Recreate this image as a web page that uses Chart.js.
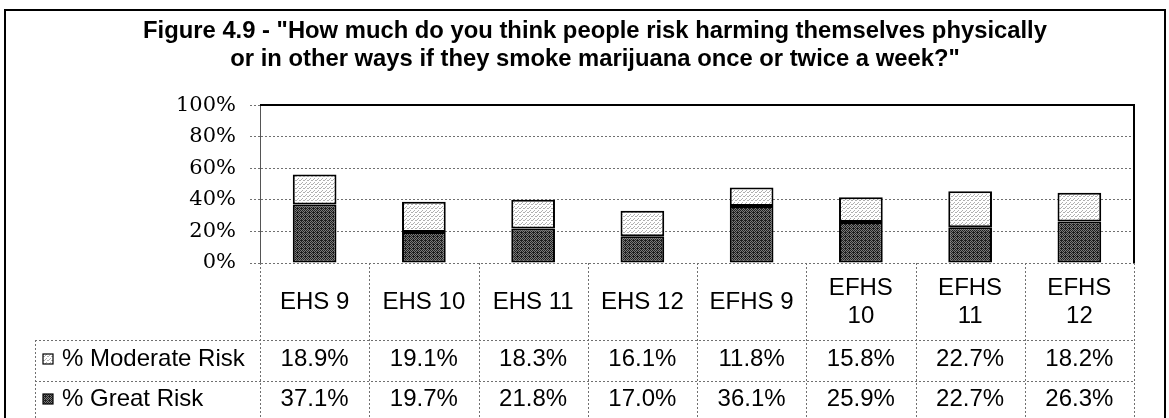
<!DOCTYPE html>
<html>
<head>
<meta charset="utf-8">
<script src="https://cdn.jsdelivr.net/npm/chart.js@4/dist/chart.umd.min.js"></script>
<style>
  html, body { margin: 0; padding: 0; background: #fff; }
  #wrap { width: 1169px; height: 418px; position: relative; }
</style>
</head>
<body>
<div id="wrap"><canvas id="c" width="1169" height="418"></canvas></div>
<script>
const titleLines = ['Figure 4.9 - "How much do you think people risk harming themselves physically',
                    'or in other ways if they smoke marijuana once or twice a week?"'];
const categories = ['EHS 9', 'EHS 10', 'EHS 11', 'EHS 12', 'EFHS 9', 'EFHS 10', 'EFHS 11', 'EFHS 12'];
const moderateRisk = [18.9, 19.1, 18.3, 16.1, 11.8, 15.8, 22.7, 18.2];
const greatRisk = [37.1, 19.7, 21.8, 17.0, 36.1, 25.9, 22.7, 26.3];
const seriesNames = ['% Moderate Risk', '% Great Risk'];
const yTicks = [0, 20, 40, 60, 80, 100];

function makePattern(base, dot, mask) {
  const c = document.createElement('canvas');
  c.width = 4; c.height = 4;
  const g = c.getContext('2d');
  g.fillStyle = base; g.fillRect(0, 0, 4, 4);
  g.fillStyle = dot;
  mask.forEach(([px, py]) => g.fillRect(px, py, 1, 1));
  return g.createPattern(c, 'repeat');
}
const ctx0 = document.getElementById('c').getContext('2d');
const greatFill = makePattern('#7a7a7a', '#1e1e1e', [[0,0],[2,0],[1,1],[3,1],[0,2],[2,2],[1,3],[3,3],[1,0]]);
const modFill = makePattern('#ffffff', '#b0b0b0', [[0,0],[2,2],[3,0],[1,3]]);

const fmt = v => v.toFixed(1) + '%';

const tablePlugin = {
  id: 'dataTable',
  afterDraw(chart) {
    const { ctx, chartArea: ca, scales: { x } } = chart;
    const colW = x.getPixelForValue(1) - x.getPixelForValue(0);
    const top = ca.bottom;
    const r1 = top + 77, r2 = top + 118, bot = 430;
    const legL = 35;
    ctx.save();
    ctx.strokeStyle = '#707070';
    ctx.lineWidth = 1;
    ctx.setLineDash([2, 2]);
    ctx.beginPath();
    for (let i = 0; i <= categories.length; i++) {
      const xb = Math.round(x.getPixelForValue(i) - colW / 2) + 0.5;
      ctx.moveTo(xb, top); ctx.lineTo(xb, bot);
    }
    ctx.moveTo(legL + 0.5, r1); ctx.lineTo(legL + 0.5, bot);
    ctx.moveTo(legL, r1 + 0.5); ctx.lineTo(ca.right, r1 + 0.5);
    ctx.moveTo(legL, r2 + 0.5); ctx.lineTo(ca.right, r2 + 0.5);
    ctx.stroke();
    ctx.setLineDash([]);

    ctx.strokeStyle = '#000';
    ctx.lineWidth = 2;
    ctx.beginPath();
    ctx.moveTo(ca.left, ca.top); ctx.lineTo(ca.right, ca.top); ctx.lineTo(ca.right, ca.bottom);
    ctx.stroke();

    ctx.fillStyle = '#000';
    ctx.font = '24px "Liberation Sans", Arial, sans-serif';
    ctx.textAlign = 'center';
    ctx.textBaseline = 'middle';
    categories.forEach((lab, i) => {
      const cx = x.getPixelForValue(i);
      if (ctx.measureText(lab).width > colW - 16) {
        const parts = lab.split(' ');
        ctx.fillText(parts[0], cx, top + 25);
        ctx.fillText(parts.slice(1).join(' '), cx, top + 53);
      } else {
        ctx.fillText(lab, cx, top + 39);
      }
      ctx.fillText(fmt(moderateRisk[i]), cx, top + 96);
      ctx.fillText(fmt(greatRisk[i]), cx, top + 136);
    });
    ctx.textAlign = 'left';
    const rowsY = [top + 96, top + 136];
    const fills = [modFill, greatFill];
    rowsY.forEach((yy, k) => {
      ctx.fillStyle = fills[k];
      ctx.fillRect(43, yy - 5, 10, 10);
      ctx.strokeStyle = '#000';
      ctx.lineWidth = 1.2;
      ctx.strokeRect(43, yy - 5, 10, 10);
      ctx.fillStyle = '#000';
      ctx.fillText(seriesNames[k], 62, yy);
    });

    ctx.strokeStyle = '#000';
    ctx.lineWidth = 2;
    ctx.beginPath();
    ctx.moveTo(5, 430); ctx.lineTo(5, 10); ctx.lineTo(1165, 10); ctx.lineTo(1165, 430);
    ctx.stroke();
    ctx.restore();
  }
};

new Chart(ctx0, {
  type: 'bar',
  data: {
    labels: categories,
    datasets: [
      { label: seriesNames[1], data: greatRisk, backgroundColor: greatFill, borderColor: '#000', borderWidth: 2, borderSkipped: false },
      { label: seriesNames[0], data: moderateRisk, backgroundColor: modFill, borderColor: '#000', borderWidth: 2, borderSkipped: false }
    ]
  },
  options: {
    responsive: false,
    animation: false,
    events: [],
    layout: { padding: { left: 56, right: 35, top: 0, bottom: 0 } },
    datasets: { bar: { categoryPercentage: 0.8, barPercentage: 0.5 } },
    plugins: {
      legend: { display: false },
      tooltip: { enabled: false },
      title: {
        display: true,
        text: titleLines,
        color: '#000',
        font: { family: '"Liberation Sans", Arial, sans-serif', size: 23.8, weight: 'bold', lineHeight: 1.2 },
        padding: { top: 17, bottom: 31 }
      }
    },
    scales: {
      x: {
        stacked: true,
        ticks: { display: false },
        grid: { display: false },
        border: { display: false },
        afterFit: s => { s.height = 155; }
      },
      y: {
        stacked: true,
        min: 0, max: 100,
        afterBuildTicks: s => { s.ticks = yTicks.map(v => ({ value: v })); },
        afterFit: s => { s.width = 204; },
        ticks: {
          color: '#000',
          padding: 14,
          font: { family: '"DejaVu Serif", serif', size: 21 },
          callback: v => v + '%'
        },
        grid: { color: '#707070', lineWidth: 1, tickLength: 10, tickColor: '#707070', tickBorderDash: [2, 2] },
        border: { display: true, color: '#555', width: 1, dash: [2, 2] }
      }
    }
  },
  plugins: [tablePlugin]
});
</script>
</body>
</html>
